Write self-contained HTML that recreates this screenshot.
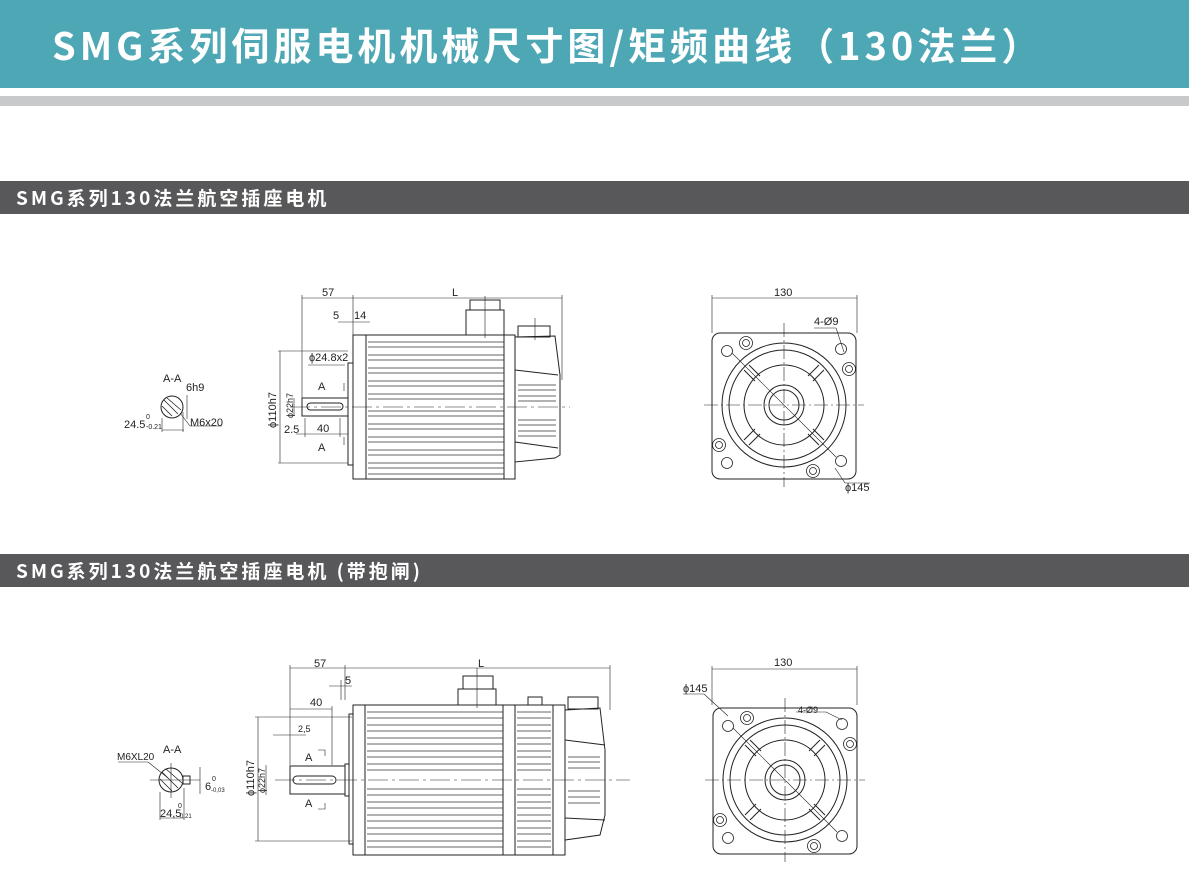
<!DOCTYPE html>
<html><head><meta charset="utf-8"><style>
html,body{margin:0;padding:0;background:#fff;width:1189px;height:886px;overflow:hidden;font-family:"Liberation Sans","Noto Sans CJK SC",sans-serif}
.hdr{position:absolute;left:0;top:0;width:1189px;height:88px;background:#4da7b5;color:#fff;font-weight:bold;font-size:38px;line-height:88px;padding-left:52px;box-sizing:border-box;letter-spacing:4px;font-family:"Noto Sans CJK SC",sans-serif;white-space:nowrap}
.gb{position:absolute;left:0;top:96px;width:1189px;height:10px;background:#c8c9cb}
.bar{position:absolute;left:0;width:1189px;height:33px;background:#58585a;color:#fff;font-weight:bold;font-size:19px;line-height:33px;padding-left:16px;box-sizing:border-box;letter-spacing:3px;font-family:"Noto Sans CJK SC",sans-serif;white-space:nowrap}
svg{position:absolute;left:0;top:0}
</style></head><body>
<div class="hdr">SMG系列伺服电机机械尺寸图/矩频曲线（130法兰）</div>
<div class="gb"></div>
<div class="bar" style="top:181px">SMG系列130法兰航空插座电机</div>
<div class="bar" style="top:554px">SMG系列130法兰航空插座电机 (带抱闸)</div>
<svg width="1189" height="886" viewBox="0 0 1189 886" font-family="Liberation Sans, sans-serif" font-size="11" fill="none" stroke="#222" stroke-width="1">
<defs>
<g id="fv">
<rect x="-72" y="-72" width="144" height="146" rx="8"/>
<circle r="62"/><circle r="55"/><circle r="40"/><circle r="20"/><circle r="15"/>
<g stroke-width="1">
<line x1="-29" y1="-24" x2="-40" y2="-35"/><line x1="-24" y1="-29" x2="-35" y2="-40"/>
<line x1="29" y1="-24" x2="40" y2="-35"/><line x1="24" y1="-29" x2="35" y2="-40"/>
<line x1="-29" y1="24" x2="-40" y2="35"/><line x1="-24" y1="29" x2="-35" y2="40"/>
<line x1="29" y1="24" x2="40" y2="35"/><line x1="24" y1="29" x2="35" y2="40"/>
</g>
<g stroke-width="0.8">
<circle cx="-57" cy="-54" r="5.5"/><circle cx="57" cy="-56" r="5.5"/><circle cx="-57" cy="58" r="5.5"/><circle cx="57" cy="56" r="5.5"/>
<circle cx="-38" cy="-62" r="6.5"/><circle cx="-38" cy="-62" r="3.5"/>
<circle cx="65" cy="-36" r="6.5"/><circle cx="65" cy="-36" r="3.5"/>
<circle cx="-65" cy="40" r="6.5"/><circle cx="-65" cy="40" r="3.5"/>
<circle cx="29" cy="66" r="6.5"/><circle cx="29" cy="66" r="3.5"/>
</g>
<g stroke-width="0.6">
<line x1="-80" y1="0" x2="80" y2="0" stroke-dasharray="14 3 2 3"/>
<line x1="0" y1="-82" x2="0" y2="82" stroke-dasharray="14 3 2 3"/>
<line x1="-52" y1="-52" x2="52" y2="52"/>
</g>
</g>
</defs>

<g>
<g stroke-width="0.6">
<line x1="302" y1="298" x2="562" y2="298"/><line x1="302" y1="295" x2="302" y2="400"/><line x1="353" y1="295" x2="353" y2="335"/><line x1="562" y1="295" x2="562" y2="380"/>
<line x1="280" y1="351" x2="280" y2="463"/><line x1="278" y1="351" x2="348" y2="351"/><line x1="278" y1="463" x2="348" y2="463"/>
<line x1="294" y1="398" x2="294" y2="416"/>
<line x1="296" y1="434" x2="348" y2="434"/><line x1="305" y1="418" x2="305" y2="437"/><line x1="340" y1="418" x2="340" y2="437"/>
<line x1="338" y1="322" x2="370" y2="322"/>
<line x1="308" y1="365" x2="345" y2="365"/>
<line x1="344" y1="383" x2="344" y2="391"/><line x1="344" y1="437" x2="344" y2="445"/>
</g>
<g stroke="#222">
<rect x="302" y="398" width="46" height="18"/>
<rect x="307" y="403" width="36" height="7" rx="3.5"/>
<rect x="348" y="363" width="5" height="102"/>
<rect x="353" y="335" width="13" height="144"/>
<rect x="366" y="335" width="138" height="144"/>
<rect x="504" y="335" width="11" height="144"/>
<rect x="466" y="310" width="38" height="25"/>
<rect x="470" y="300" width="30" height="10"/>
<path d="M515 337 L555 336 L560 375 L560 455 L555 458 L515 462 Z"/>
<rect x="518" y="326" width="32" height="11"/>
<path d="M515 370 L558 375 M515 442 L558 448"/>
</g>
<g stroke-width="0.8" stroke="#333">
<path d="M368 342H504M368 347H504M368 355H504M368 360H504M368 368H504M368 373H504M368 381H504M368 386H504M368 394H504M368 399H504M368 411H504M368 416H504M368 424H504M368 429H504M368 437H504M368 442H504M368 450H504M368 455H504M368 463H504M368 468H504M368 474H504"/>
<path d="M518 385H556M518 390H556M518 396H556M518 401H556M518 420H556M518 425H556M518 431H556M518 436H556"/>
</g>
<line x1="290" y1="407" x2="570" y2="407" stroke-width="0.6" stroke-dasharray="20 4 3 4"/>
<line x1="485" y1="296" x2="485" y2="338" stroke-width="0.6"/>
<line x1="535" y1="318" x2="535" y2="340" stroke-width="0.6"/>
<circle cx="172" cy="407" r="11" stroke-width="1"/>
<path d="M164 400L178 414M162 406L172 416M167 398L181 410" stroke-width="0.8"/>
<g stroke-width="0.6"><line x1="162" y1="430" x2="184" y2="430"/><line x1="162" y1="418" x2="162" y2="432"/><line x1="183" y1="412" x2="183" y2="432"/><line x1="187" y1="395" x2="187" y2="419"/><line x1="180" y1="413" x2="190" y2="426"/><line x1="190" y1="426" x2="222" y2="426"/></g>
</g>
<g fill="#222" stroke="none" font-size="11">
<text x="322" y="296">57</text><text x="452" y="296">L</text>
<text x="333" y="319">5</text><text x="354" y="319">14</text>
<text x="309" y="361">ϕ24.8x2</text>
<text x="318" y="390">A</text><text x="318" y="451">A</text>
<text x="284" y="433">2.5</text><text x="317" y="432">40</text>
<text x="163" y="382">A-A</text><text x="186" y="391">6h9</text>
<text x="190" y="426">M6x20</text><text x="124" y="428">24.5</text><text x="146" y="419" font-size="7">0</text><text x="146" y="429" font-size="7">-0.21</text>
<text transform="translate(276,428) rotate(-90)">ϕ110h7</text>
<text transform="translate(293,418) rotate(-90)" font-size="9">ϕ22h7</text>
</g>

<use href="#fv" x="784" y="405"/>
<g stroke-width="0.6"><line x1="712" y1="298" x2="857" y2="298"/><line x1="712" y1="295" x2="712" y2="333"/><line x1="857" y1="295" x2="857" y2="333"/><line x1="814" y1="328" x2="836" y2="328"/><line x1="836" y1="328" x2="844" y2="352"/><line x1="835" y1="468" x2="845" y2="483"/><line x1="845" y1="483" x2="870" y2="483"/></g>
<g fill="#222" stroke="none"><text x="774" y="296">130</text><text x="814" y="325">4-Ø9</text><text x="845" y="491">ϕ145</text></g>

<g stroke-width="0.6">
<line x1="290" y1="668" x2="610" y2="668"/><line x1="290" y1="665" x2="290" y2="765"/><line x1="345" y1="665" x2="345" y2="700"/><line x1="610" y1="665" x2="610" y2="710"/>
<line x1="329" y1="686" x2="352" y2="686"/><line x1="341" y1="680" x2="341" y2="700"/>
<line x1="290" y1="709" x2="332" y2="709"/><line x1="332" y1="706" x2="332" y2="765"/>
<line x1="273" y1="735" x2="306" y2="735"/>
<line x1="258" y1="717" x2="258" y2="841"/><line x1="255" y1="717" x2="352" y2="717"/><line x1="255" y1="841" x2="352" y2="841"/>
<line x1="266" y1="765" x2="266" y2="795"/>
<path d="M318 750H325V756M318 809H325V803"/>
</g>
<g stroke="#222">
<rect x="290" y="766" width="55" height="28"/>
<rect x="293" y="776" width="43" height="8" rx="4"/>
<rect x="345" y="764" width="4" height="32"/>
<rect x="349" y="714" width="4" height="130"/>
<rect x="353" y="705" width="12" height="150"/>
<rect x="365" y="705" width="138" height="150"/>
<rect x="503" y="705" width="12" height="150"/>
<rect x="515" y="705" width="38" height="150"/>
<rect x="553" y="705" width="12" height="150"/>
<rect x="458" y="689" width="38" height="16"/><rect x="463" y="676" width="30" height="13"/>
<rect x="528" y="697" width="14" height="8"/>
<path d="M565 710 L600 708 L605 750 L605 815 L600 835 L565 840 Z"/>
<rect x="568" y="697" width="30" height="12"/>
<path d="M565 740 L605 745 M565 818 L605 820"/>
</g>
<g stroke-width="0.8" stroke="#333">
<path d="M367 712H503M367 718H503M367 725H503M367 731H503M367 738H503M367 744H503M367 751H503M367 757H503M367 764H503M367 770H503M367 789H503M367 795H503M367 802H503M367 808H503M367 815H503M367 821H503M367 828H503M367 834H503M367 841H503M367 847H503"/>
<path d="M517 712H551M517 718H551M517 725H551M517 731H551M517 738H551M517 744H551M517 751H551M517 757H551M517 764H551M517 770H551M517 789H551M517 795H551M517 802H551M517 808H551M517 815H551M517 821H551M517 828H551M517 834H551M517 841H551M517 847H551"/>
<path d="M568 757H600M568 762H600M568 768H600M568 791H600M568 797H600M568 803H600"/>
</g>
<line x1="275" y1="780" x2="630" y2="780" stroke-width="0.6" stroke-dasharray="20 4 3 4"/>
<line x1="477" y1="668" x2="477" y2="708" stroke-width="0.6"/>
<circle cx="171" cy="780" r="12"/>
<path d="M162 772L178 788M160 779L172 791M166 769L182 783" stroke-width="0.8"/>
<rect x="183" y="776" width="7" height="8"/>
<g stroke-width="0.6"><line x1="160" y1="818" x2="184" y2="818"/><line x1="160" y1="792" x2="160" y2="820"/><line x1="184" y1="788" x2="184" y2="820"/><line x1="200" y1="767" x2="200" y2="794"/><line x1="118" y1="762" x2="148" y2="762"/><line x1="148" y1="762" x2="168" y2="778"/><line x1="150" y1="780" x2="200" y2="780"/><line x1="171" y1="763" x2="171" y2="798"/></g>
<g fill="#222" stroke="none" font-size="11">
<text x="314" y="667">57</text><text x="478" y="667">L</text>
<text x="345" y="684">5</text><text x="310" y="706">40</text><text x="298" y="732" font-size="9">2,5</text>
<text x="305" y="761">A</text><text x="305" y="807">A</text>
<text x="163" y="753">A-A</text><text x="117" y="760" font-size="10">M6XL20</text>
<text x="205" y="790">6</text><text x="212" y="781" font-size="7">0</text><text x="211" y="792" font-size="6">-0,03</text>
<text x="160" y="817">24,5</text><text x="178" y="808" font-size="7">0</text><text x="178" y="818" font-size="6">-0,21</text>
<text transform="translate(254,796) rotate(-90)">ϕ110h7</text>
<text transform="translate(265,793) rotate(-90)" font-size="9">ϕ22h7</text>
</g>

<use href="#fv" x="785" y="780"/>
<g stroke-width="0.6"><line x1="712" y1="669" x2="857" y2="669"/><line x1="712" y1="666" x2="712" y2="705"/><line x1="857" y1="666" x2="857" y2="705"/><line x1="683" y1="694" x2="704" y2="694"/><line x1="704" y1="694" x2="728" y2="716"/><line x1="796" y1="712" x2="826" y2="712"/><line x1="826" y1="712" x2="842" y2="720"/></g>
<g fill="#222" stroke="none"><text x="774" y="666">130</text><text x="683" y="692">ϕ145</text><text x="798" y="713" font-size="9">4-Ø9</text></g>
</svg>
</body></html>
